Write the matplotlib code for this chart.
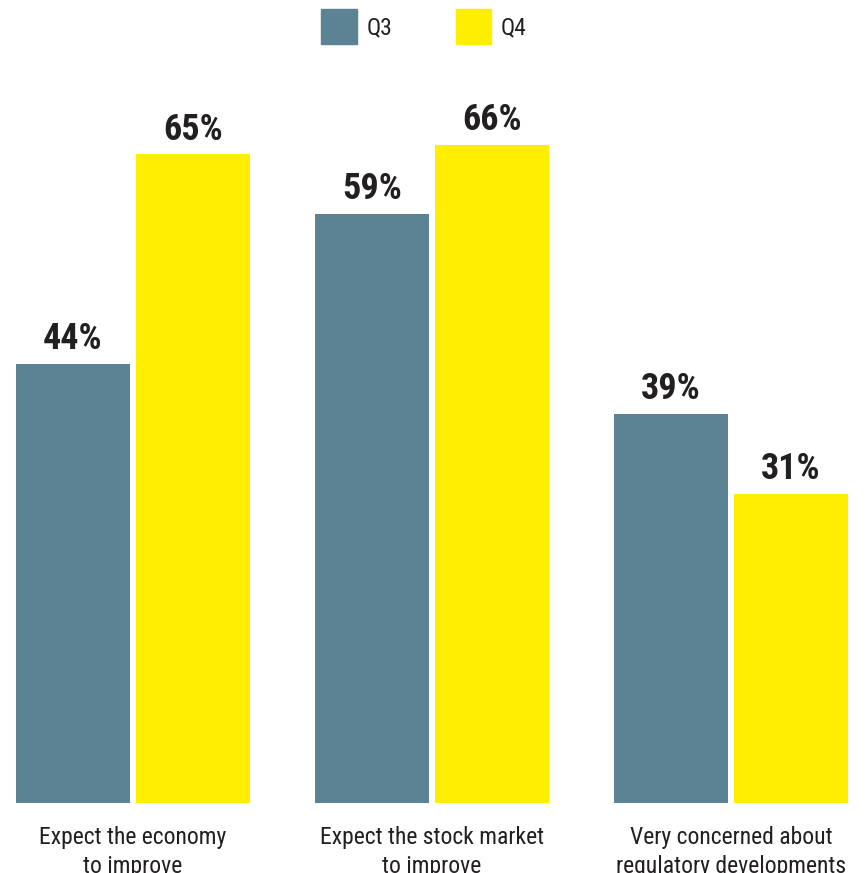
import matplotlib
matplotlib.use('Agg')
import matplotlib.pyplot as plt
import numpy as np
from matplotlib.patches import Patch

categories = ['Expect the economy\nto improve',
              'Expect the stock market\nto improve',
              'Very concerned about\nregulatory developments']
q3 = [44, 59, 39]
q4 = [65, 66, 31]
series = ['Q3', 'Q4']
colors = ['#5b8393', '#ffee00']

plt.rcParams['font.family'] = ['Roboto Condensed', 'DejaVu Sans']

fig = plt.figure(figsize=(8.68, 8.73), dpi=100)
ax = fig.add_axes([0, 70 / 873, 1, 703 / 873])

x = np.arange(len(categories))
w = 114 / 299
off = 60 / 299
b1 = ax.bar(x - off, q3, w, color=colors[0])
b2 = ax.bar(x + off, q4, w, color=colors[1])

for bars, vals in [(b1, q3), (b2, q4)]:
    for b, v in zip(bars, vals):
        ax.annotate(f'{v}%', (b.get_x() + b.get_width() / 2, v),
                    xytext=(0, 5), textcoords='offset points',
                    ha='center', va='bottom', fontsize=26, fontweight='bold',
                    color='#231f20')

ax.set_xlim(-133 / 299, (868 - 133) / 299)
ax.set_ylim(0, 703 / 9.977)
ax.set_xticks(x)
ax.set_xticklabels(categories, fontsize=17, color='#231f20', linespacing=1.35)
ax.tick_params(axis='x', length=0, pad=16.5)
ax.set_yticks([])
for s in ax.spines.values():
    s.set_visible(False)

handles = [Patch(color=c, label=s) for c, s in zip(colors, series)]
fig.legend(handles=handles, loc='upper center', bbox_to_anchor=(0.4885, 1.0),
           ncol=2, frameon=False, fontsize=17, handlelength=1.5,
           handleheight=1.9, handletextpad=0.4, columnspacing=2.7,
           borderaxespad=0.0, labelcolor='#231f20')

fig.savefig('out.png', dpi=100)
